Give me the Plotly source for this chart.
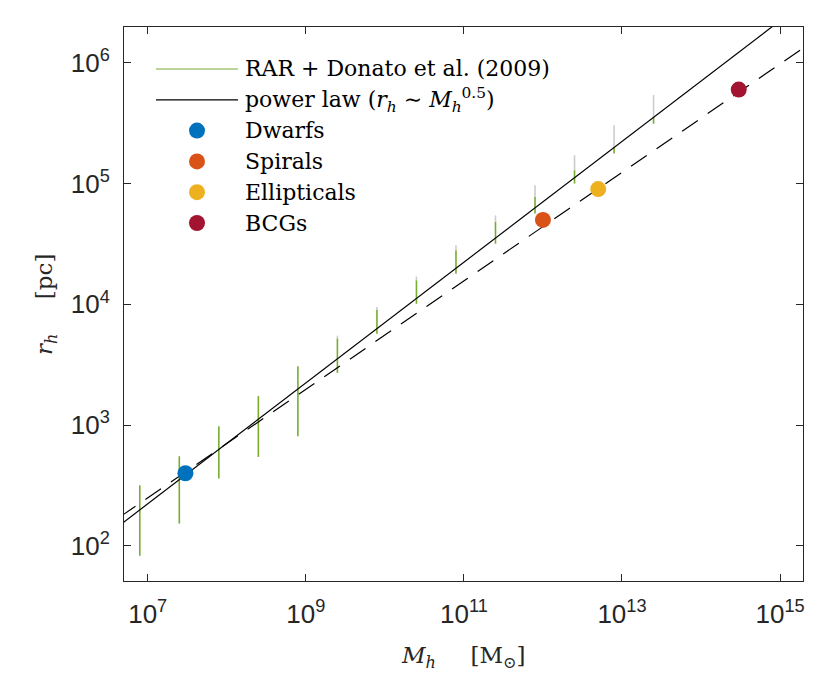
import plotly.graph_objects as go

# RAR + Donato et al. (2009) curves, one per halo mass (M_sun)
rar_mass = [7.94e6, 2.51e7, 7.94e7, 2.51e8, 7.94e8, 2.51e9, 7.94e9,
            2.51e10, 7.94e10, 2.51e11, 7.94e11, 2.51e12, 7.94e12, 2.51e13]
# lower end, end of the green part, upper end (grey above) in pc
rar_r_low = [83, 153, 361, 546, 811, 2710, 5710,
             10100, 17900, 31800, 56400, 1.00e5, 1.77e5, 3.13e5]
rar_r_mid = [318, 553, 980, 1740, 3080, 5220, 8970,
             15800, 28000, 48100, 77400, 1.29e5, 2.01e5, 3.56e5]
rar_r_high = [318, 553, 980, 1740, 3080, 5500, 9500,
              17000, 30800, 54500, 96800, 1.71e5, 3.04e5, 5.40e5]

# power law r_h ~ M_h^0.5 (solid) and fit through the galaxies (dashed)
line_mass = [1e6, 1e16]
power_law_r = [70.6, 7.06e6]
fit_r = [89, 2.75e6]

galaxy_names = ['Dwarfs', 'Spirals', 'Ellipticals', 'BCGs']
galaxy_mass = [3e7, 1e12, 5e12, 3e14]
galaxy_r = [400, 5e4, 9e4, 6e5]
galaxy_colors = ['#0072BD', '#D95319', '#EDB120', '#A2142F']

x_tick_vals = [1e7, 1e9, 1e11, 1e13, 1e15]
x_tick_text = ['10<sup>7</sup>', '10<sup>9</sup>', '10<sup>11</sup>',
               '10<sup>13</sup>', '10<sup>15</sup>']
y_tick_vals = [1e2, 1e3, 1e4, 1e5, 1e6]
y_tick_text = ['10<sup>2</sup>', '10<sup>3</sup>', '10<sup>4</sup>',
               '10<sup>5</sup>', '10<sup>6</sup>']

GREEN = '#77AC30'
GREY = '#CCCCCC'
AXIS = '#262626'
SERIF = 'DejaVu Serif'

fig = go.Figure()

# green (lower) and grey (upper) parts of every RAR curve
green_x, green_y, grey_x, grey_y = [], [], [], []
for m, lo, mid, hi in zip(rar_mass, rar_r_low, rar_r_mid, rar_r_high):
    green_x += [m, m, None]
    green_y += [lo, mid, None]
    if hi > mid:
        grey_x += [m, m, None]
        grey_y += [mid, hi, None]

fig.add_trace(go.Scatter(x=grey_x, y=grey_y, mode='lines',
                         line=dict(color=GREY, width=1.6), showlegend=False))
fig.add_trace(go.Scatter(x=green_x, y=green_y, mode='lines',
                         line=dict(color=GREEN, width=1.6), showlegend=False))

fig.add_trace(go.Scatter(x=line_mass, y=power_law_r, mode='lines',
                         line=dict(color='black', width=1.2), showlegend=False))
fig.add_trace(go.Scatter(x=line_mass, y=fit_r, mode='lines',
                         line=dict(color='black', width=1.2, dash='19px,12px'),
                         showlegend=False))

for name, m, r, c in zip(galaxy_names, galaxy_mass, galaxy_r, galaxy_colors):
    fig.add_trace(go.Scatter(x=[m], y=[r], mode='markers', name=name,
                             marker=dict(color=c, size=16), showlegend=False))

# the page puts the figure 8px in from the corner, so the figure is drawn
# 8px smaller and the margins shifted to land where the reference has them
page_offset = 8
fig_w, fig_h = 830 - page_offset, 692 - page_offset
plot_l, plot_t, plot_w, plot_h = 124, 27, 679, 554


# reference pixel -> paper coordinates
def px(x):
    return (x - plot_l) / plot_w


def py(y):
    return (plot_t + plot_h - y) / plot_h


# legend drawn by hand so the line samples get the long matlab look
legend_rows = [
    ('line', GREEN, 'RAR + Donato et al. (2009)'),
    ('line', 'black', 'power law (<i>r</i><sub><i>h</i></sub> ∼ '
                      '<i>M</i><sub><i>h</i></sub><sup>0.5</sup>)'),
]
for name, c in zip(galaxy_names, galaxy_colors):
    legend_rows.append(('dot', c, name))

row_y = 69
for kind, c, label in legend_rows:
    if kind == 'line':
        fig.add_shape(type='line', xref='paper', yref='paper',
                      x0=px(156), x1=px(238), y0=py(row_y), y1=py(row_y),
                      line=dict(color=c, width=1.2))
    else:
        fig.add_shape(type='circle', xref='paper', yref='paper',
                      xsizemode='pixel', ysizemode='pixel',
                      xanchor=px(197), yanchor=py(row_y),
                      x0=-8, x1=8, y0=-8, y1=8,
                      fillcolor=c, line=dict(width=0))
    fig.add_annotation(text=label, xref='paper', yref='paper',
                       x=px(243), y=py(row_y), xanchor='left', yanchor='middle',
                       showarrow=False, font=dict(family=SERIF, size=22, color='black'))
    row_y += 30.8

# axis titles
fig.add_annotation(text='<i>M</i><sub><i>h</i></sub>\u2003\u2002[M<sub>⊙</sub>]',
                   xref='paper', yref='paper', x=px(463), y=py(657),
                   xanchor='center', yanchor='middle', showarrow=False,
                   font=dict(family=SERIF, size=23, color=AXIS))
fig.add_annotation(text='<i>r</i><sub><i>h</i></sub>\u2003\u2002[pc]',
                   xref='paper', yref='paper', x=px(46), y=py(305),
                   xanchor='center', yanchor='middle', showarrow=False, textangle=-90,
                   font=dict(family=SERIF, size=23, color=AXIS))

axis_common = dict(type='log', showgrid=False, zeroline=False,
                   showline=True, mirror='ticks', linecolor=AXIS, linewidth=1,
                   ticks='inside', ticklen=7, tickcolor=AXIS, tickwidth=1,
                   tickfont=dict(family='Liberation Sans', size=26, color=AXIS))

fig.update_layout(
    width=fig_w, height=fig_h,
    margin=dict(l=plot_l - page_offset, r=fig_w - (plot_l - page_offset) - plot_w,
                t=plot_t - page_offset, b=fig_h - (plot_t - page_offset) - plot_h),
    plot_bgcolor='white', paper_bgcolor='white',
    xaxis=dict(range=[6.70, 15.29], tickvals=x_tick_vals, ticktext=x_tick_text,
               ticklabelstandoff=10, **axis_common),
    yaxis=dict(range=[1.71, 6.296], tickvals=y_tick_vals, ticktext=y_tick_text,
               ticklabelstandoff=8, **axis_common),
    showlegend=False,
)

fig.write_html("out.html")
